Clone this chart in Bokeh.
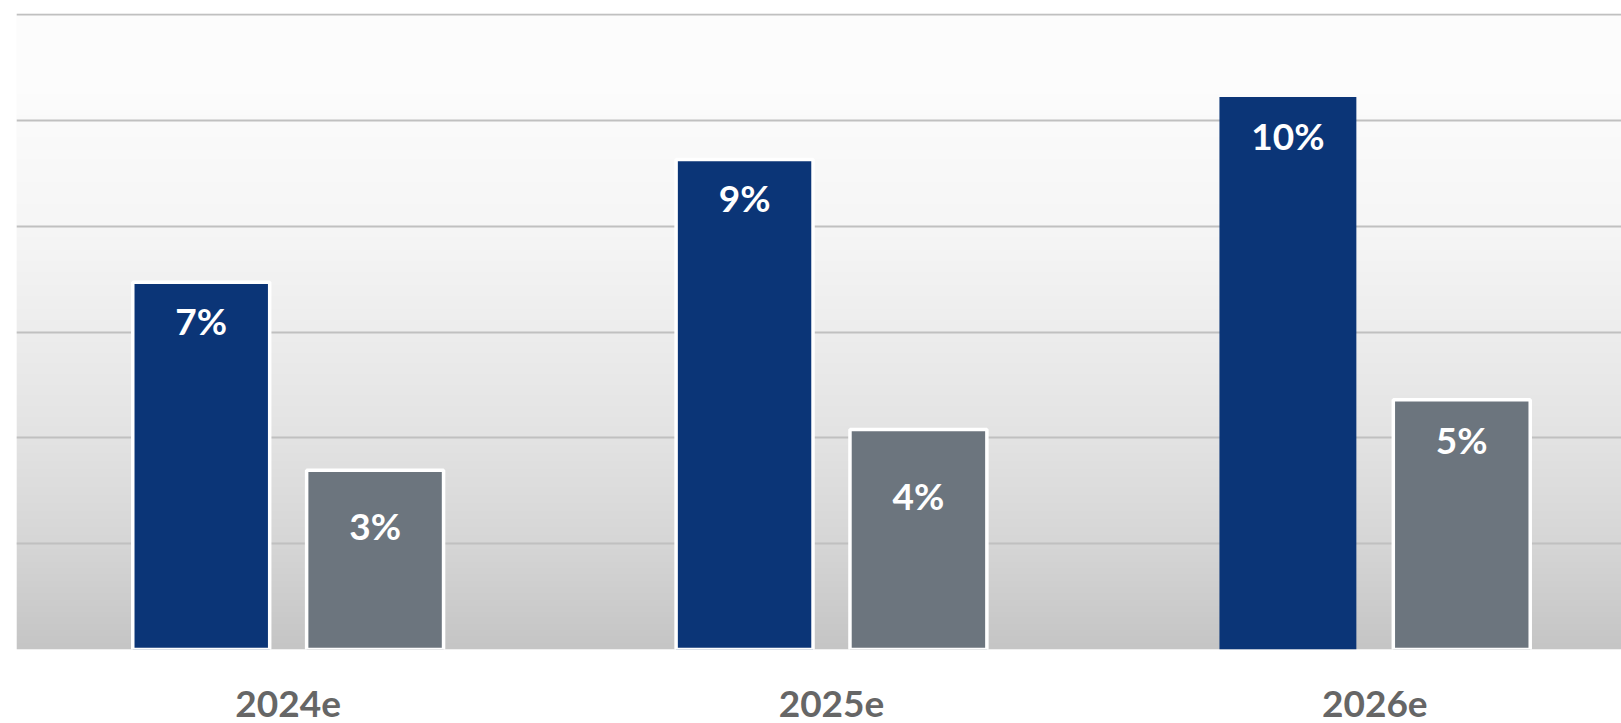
import numpy as np
from bokeh.plotting import figure
from bokeh.models import ColumnDataSource, FixedTicker, Range1d
from bokeh.core.properties import value
from bokeh.embed import file_html
from bokeh.resources import INLINE

# ---- data ----
categories = ["2024e", "2025e", "2026e"]
series_a = [6.94, 9.26, 10.44]
series_b = [3.39, 4.16, 4.72]
labels_a = ["7%", "9%", "10%"]
labels_b = ["3%", "4%", "5%"]
y_ticks = [0, 2, 4, 6, 8, 10, 12]

# ---- styles ----
BLUE = "#0b3577"
GRAY = "#6c757e"
FONT = "Lato"
outline_a = ["white", "white", None]
outline_b = ["white", "white", "white"]
label_shift_a = [38, 38, 38]   # px below bar top
label_shift_b = [55, 66, 40]

W, H = 1621, 723
XEND = 2.954
YEND = 12.02
p = figure(width=W, height=H, output_backend="svg", toolbar_location=None,
           x_range=Range1d(0, XEND), y_range=Range1d(0, YEND),
           y_axis_location=None, min_border_left=16, min_border_right=0,
           min_border_top=13, min_border_bottom=74)
p.background_fill_color = "#fdfdfd"
p.border_fill_color = "white"
p.outline_line_color = None

# smooth vertical gradient background (decorative), drawn as an RGBA image
stops_y = [0, 2, 4, 6, 8, 10.5, YEND]
stops_c = [197, 214, 227, 237, 246, 252, 253]
n = 400
ys = (np.arange(n) + 0.5) / n * YEND
g = np.interp(ys, stops_y, stops_c).astype(np.uint32)
img = (255 << 24) | (g << 16) | (g << 8) | g
img = img.reshape(n, 1)
p.image_rgba(image=[img], x=0, y=0, dw=XEND, dh=YEND, level="image")

idx = np.arange(len(categories)) + 0.5
off = 0.16
bw = 0.252
src_a = ColumnDataSource(dict(x=idx - off, top=series_a, lab=labels_a, lc=outline_a,
                              dy=label_shift_a))
src_b = ColumnDataSource(dict(x=idx + off, top=series_b, lab=labels_b, lc=outline_b,
                              dy=label_shift_b))

p.vbar(x="x", top="top", bottom=0, width=bw, source=src_a, fill_color=BLUE,
       line_color="lc", line_width=3.5)
p.vbar(x="x", top="top", bottom=0, width=bw, source=src_b, fill_color=GRAY,
       line_color="lc", line_width=3.5)

for src in (src_a, src_b):
    p.text(x="x", y="top", text="lab", source=src, text_color="white",
           text_font=value(FONT), text_font_style="bold", text_font_size="37px",
           text_align="center", text_baseline="middle", y_offset="dy")

p.ygrid.ticker = FixedTicker(ticks=y_ticks)
p.ygrid.grid_line_color = "#c0c0c0"
p.ygrid.grid_line_width = 2
p.xgrid.grid_line_color = None

ax = p.xaxis[0]
ax.ticker = FixedTicker(ticks=list(idx))
ax.major_label_overrides = {float(i): c for i, c in zip(idx, categories)}
ax.axis_line_color = None
ax.major_tick_line_color = None
ax.minor_tick_line_color = None
ax.major_tick_out = 0
ax.major_tick_in = 0
ax.major_label_text_font = FONT
ax.major_label_text_font_style = "bold"
ax.major_label_text_font_size = "37px"
ax.major_label_text_color = "#666666"
ax.major_label_standoff = 41

open("out.html", "w").write(file_html(p, INLINE))
